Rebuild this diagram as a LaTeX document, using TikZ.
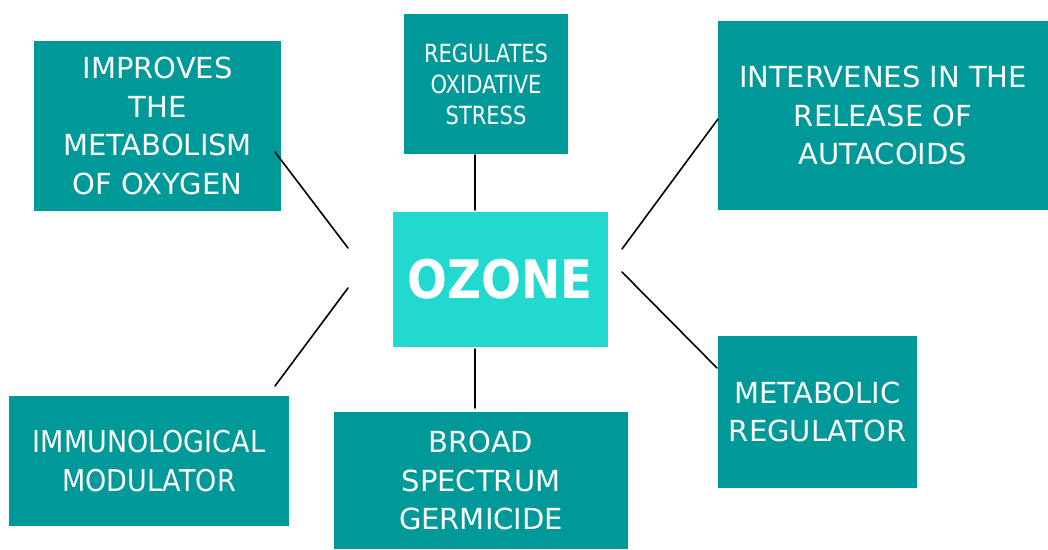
\documentclass[tikz,border=0pt]{standalone}
\usepackage{fontspec}
\setmainfont{DejaVu Sans}
\newfontfamily\narrowfont{DejaVu Sans}[FakeStretch=0.84]
\newfontfamily\slimfont{DejaVu Sans}[FakeStretch=0.9]
\newfontfamily\ozonefont{DejaVu Sans}[FakeStretch=0.885]
\usetikzlibrary{positioning}
\definecolor{cteal}{RGB}{0,153,153}
\definecolor{ccyan}{RGB}{34,217,208}

\begin{document}
\begin{tikzpicture}[x=1pt, y=-1pt,
    topic/.style={fill=cteal, text=white, align=center, inner sep=0pt,
      font=\fontsize{29}{38.5}\selectfont},
    link/.style={line width=1.6pt, line cap=round}]

  % canvas
  \useasboundingbox (0, 0) rectangle (1048, 549);

  % centre
  \node [fill=ccyan, text=white, minimum width=215pt, minimum height=135pt,
    font=\ozonefont\fontsize{53}{56}\selectfont\bfseries] (ozone) at (500.5, 279.5) {OZONE};

  % effects
  \node [topic, minimum width=247pt, minimum height=170pt] (metab)
    at (157.5, 126) {IMPROVES\\THE\\METABOLISM\\OF OXYGEN};
  \node [topic, minimum width=164pt, minimum height=140pt,
    font=\narrowfont\fontsize{25}{31}\selectfont] (stress)
    at (486, 84) {REGULATES\\OXIDATIVE\\STRESS};
  \node [topic, minimum width=330pt, minimum height=189pt] (autac)
    at (883, 115.5) {INTERVENES IN THE\\RELEASE OF\\AUTACOIDS};
  \node [topic, minimum width=199pt, minimum height=152pt] (regul)
    at (817.5, 412) {METABOLIC\\REGULATOR};
  \node [topic, minimum width=294pt, minimum height=137pt] (germ)
    at (481, 480.5) {BROAD\\SPECTRUM\\GERMICIDE};
  \node [topic, minimum width=280pt, minimum height=130pt,
    font=\slimfont\fontsize{30}{39}\selectfont] (immun)
    at (149, 461) {IMMUNOLOGICAL\\MODULATOR};

  % free ends of the links
  \coordinate (metab-end) at (275, 152);
  \coordinate (metab-mid) at (348, 248);
  \coordinate (stress-end) at (475, 155);
  \coordinate (stress-mid) at (475, 210);
  \coordinate (autac-end) at (718, 119);
  \coordinate (autac-mid) at (622, 249);
  \coordinate (regul-end) at (717, 368);
  \coordinate (regul-mid) at (622, 272);
  \coordinate (germ-end) at (475, 408);
  \coordinate (germ-mid) at (475, 349);
  \coordinate (immun-end) at (275, 386);
  \coordinate (immun-mid) at (348, 288);

  % links
  \foreach \n in {metab, stress, autac, regul, germ, immun} {
    \draw [link] (\n-end) -- (\n-mid);
  }
\end{tikzpicture}
\end{document}
